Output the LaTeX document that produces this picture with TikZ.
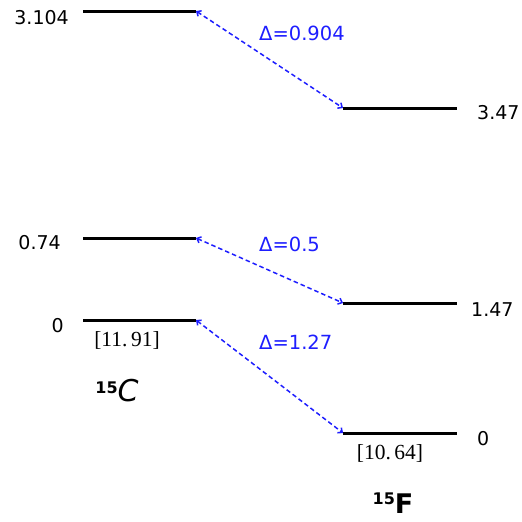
\documentclass[tikz,border=0pt]{standalone}
\usepackage{fontspec}
\setmainfont{DejaVu Sans}
\newfontfamily\bracketfont{Liberation Serif}
\usetikzlibrary{arrows.meta}
\definecolor{deltablue}{RGB}{30,30,255}
\tikzset{
  level/.style={line width=3pt, draw=black},
  trans/.style={deltablue, line width=1.5pt, dash pattern=on 4.5pt off 3pt,
    {Straight Barb[length=3.5pt,width=6.5pt]}-{Straight Barb[length=3.5pt,width=6.5pt]}},
  val/.style={inner sep=0pt, font=\fontsize{19}{22}\selectfont},
  dlab/.style={inner sep=0pt, anchor=west, text=deltablue, font=\fontsize{19.5}{22}\selectfont},
  brk/.style={inner sep=0pt, font=\bracketfont\fontsize{21.5}{24}\selectfont},
}
\begin{document}
\begin{tikzpicture}[x=1pt,y=1pt]
\useasboundingbox (0,0) rectangle (522,-522);
% coordinates for levels
\coordinate (L3a) at (83,-11);  \coordinate (L3b) at (196,-11);
\coordinate (L1a) at (83,-238); \coordinate (L1b) at (196,-238);
\coordinate (L0a) at (83,-320); \coordinate (L0b) at (196,-320);
\coordinate (R3a) at (343,-108); \coordinate (R3b) at (457,-108);
\coordinate (R1a) at (343,-303); \coordinate (R1b) at (457,-303);
\coordinate (R0a) at (343,-433); \coordinate (R0b) at (457,-433);
% levels
\draw[level] (L3a) -- (L3b);
\draw[level] (L1a) -- (L1b);
\draw[level] (L0a) -- (L0b);
\draw[level] (R3a) -- (R3b);
\draw[level] (R1a) -- (R1b);
\draw[level] (R0a) -- (R0b);
% transitions
\draw[trans] (L3b) -- (R3a);
\draw[trans] (L1b) -- (R1a);
\draw[trans] (L0b) -- (R0a);
% energy values
\node[val, anchor=east] (vL3) at (69,-18) {3.104};
\node[val, anchor=east] (vL1) at (61,-243) {0.74};
\node[val, anchor=east] (vL0) at (64,-326) {0};
\node[val, anchor=west] (vR3) at (477,-113) {3.47};
\node[val, anchor=west] (vR1) at (471,-310) {1.47};
\node[val, anchor=west] (vR0) at (477,-439) {0};
% deltas
\node[dlab] (d3) at (259,-33) {Δ=0.904};
\node[dlab] (d1) at (259,-244) {Δ=0.5};
\node[dlab] (d0) at (259,-342) {Δ=1.27};
% separation energies
\node[brk] (sC) at (127,-340) {[11.\,91]};
\node[brk] (sF) at (390,-453) {[10.\,64]};
% nuclei
\node[inner sep=0pt] (nC) at (117,-391) {\raisebox{8pt}{\fontsize{16}{18}\selectfont\bfseries 15}\fontsize{30}{32}\selectfont\itshape C};
\node[inner sep=0pt] (nF) at (393,-503) {\raisebox{9pt}{\fontsize{16}{18}\selectfont\bfseries 15}\fontsize{27}{30}\selectfont\bfseries F};
\end{tikzpicture}
\end{document}
